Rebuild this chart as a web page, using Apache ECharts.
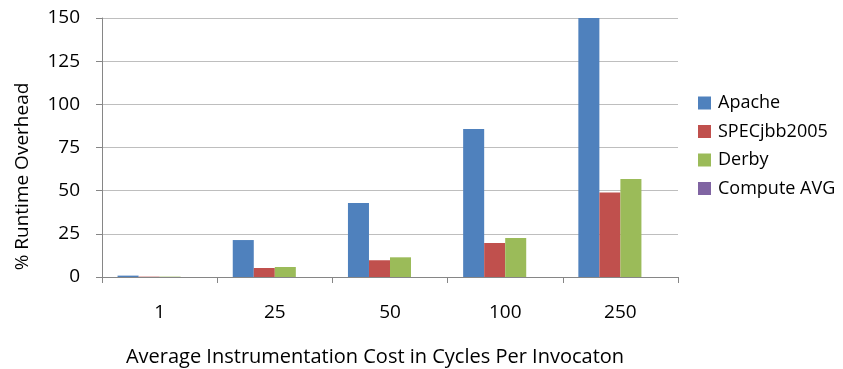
<!DOCTYPE html>
<html>
<head>
<meta charset="utf-8">
<script src="https://cdn.jsdelivr.net/npm/echarts@6/dist/echarts.min.js"></script>
<style>
  html, body { margin: 0; padding: 0; background: #fff; }
  #chart { width: 843px; height: 369px; }
</style>
</head>
<body>
<div id="chart"></div>
<script>
// Instrumentation cost (cycles per invocation) on the x axis
const categories = ['1', '25', '50', '100', '250'];
const yTicks = [0, 25, 50, 75, 100, 125, 150];

// % runtime overhead per benchmark
const apache = [0.8, 21.4, 42.8, 85.7, 150];
const specjbb = [0.2, 5.2, 9.7, 19.7, 49];
const derby = [0.2, 5.8, 11.4, 22.6, 56.7];
const computeAvg = [0, 0, 0, 0, 0];

const seriesNames = ['Apache', 'SPECjbb2005', 'Derby', 'Compute AVG'];
const seriesData = [apache, specjbb, derby, computeAvg];
const colors = ['#4F81BD', '#C0504D', '#9BBB59', '#8064A2'];

const font = 'Open Sans';
const chart = echarts.init(document.getElementById('chart'));

chart.setOption({
  animation: false,
  color: colors,
  textStyle: { fontFamily: font },
  grid: { left: 102, right: 165, top: 18, bottom: 92, containLabel: false, outerBoundsMode: 'none' },
  legend: {
    orient: 'vertical',
    left: 693,
    top: 89,
    itemWidth: 13,
    itemHeight: 13,
    itemGap: 10.5,
    icon: 'rect',
    textStyle: { fontFamily: font, fontSize: 18, lineHeight: 18, color: '#000', padding: [0, 0, 0, 2] },
    data: seriesNames
  },
  xAxis: {
    type: 'category',
    data: categories,
    name: 'Average Instrumentation Cost in Cycles Per Invocaton',
    nameLocation: 'middle',
    nameGap: 70,
    nameTextStyle: { fontFamily: font, fontSize: 20, color: '#000', padding: [0, 30, 0, 0] },
    axisLine: { lineStyle: { color: '#868686', width: 1 } },
    axisTick: { show: true, alignWithLabel: false, length: 6, lineStyle: { color: '#868686' } },
    axisLabel: { margin: 26, fontFamily: font, fontSize: 19, color: '#000' }
  },
  yAxis: {
    type: 'value',
    min: yTicks[0],
    max: yTicks[yTicks.length - 1],
    interval: yTicks[1] - yTicks[0],
    name: '% Runtime Overhead',
    nameLocation: 'middle',
    nameGap: 70,
    nameTextStyle: { fontFamily: font, fontSize: 19, color: '#000', padding: [0, 58, 0, 0] },
    axisLine: { show: true, lineStyle: { color: '#868686', width: 1 } },
    axisTick: { show: true, length: 6, lineStyle: { color: '#868686' } },
    axisLabel: { margin: 22, fontFamily: font, fontSize: 19, color: '#000' },
    splitLine: { lineStyle: { color: '#BEBEBE', width: 1 } }
  },
  series: seriesNames.map((name, i) => ({
    name: name,
    type: 'bar',
    data: seriesData[i],
    barGap: '0%',
    barCategoryGap: '27%',
    itemStyle: { color: colors[i] }
  }))
});
</script>
</body>
</html>
